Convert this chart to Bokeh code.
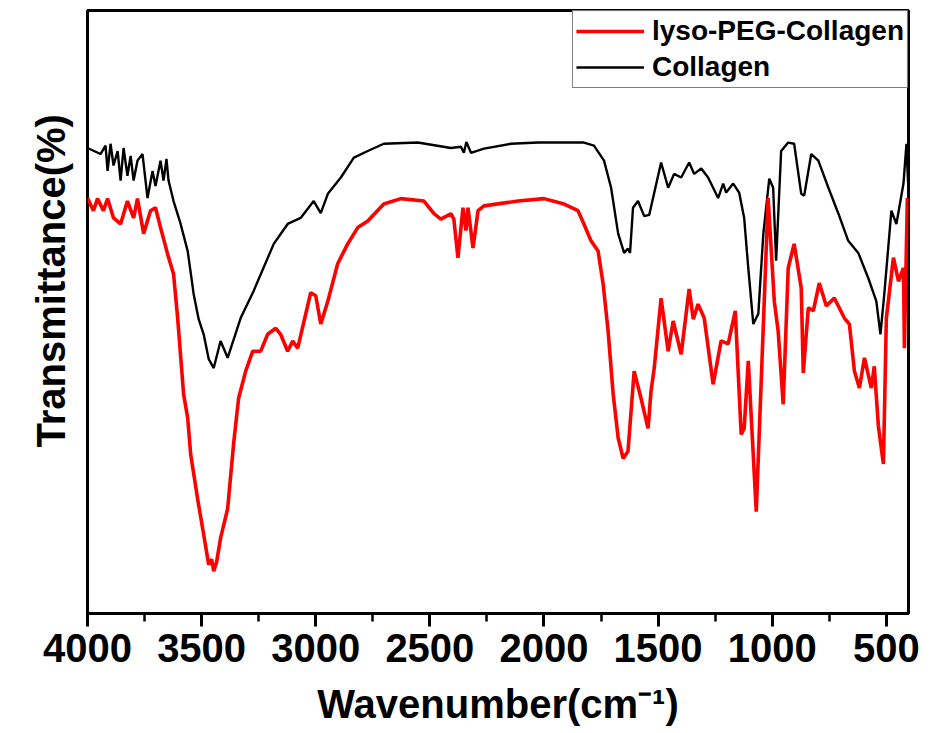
from bokeh.plotting import figure
from bokeh.models import Range1d, SingleIntervalTicker, Legend, LegendItem, Title
from bokeh.embed import file_html
from bokeh.resources import INLINE

# ---- data (wavenumber in cm^-1, transmittance in arbitrary % units) ----
wn_col = [4000, 3943, 3921, 3912, 3899, 3886, 3868, 3855, 3842, 3825, 3811, 3798, 3781, 3759,
          3737, 3715, 3702, 3680, 3667, 3654, 3645, 3623, 3592, 3561, 3535, 3513, 3491, 3469,
          3447, 3417, 3386, 3329, 3272, 3184, 3123, 3066, 3009, 2978, 2947, 2890, 2833, 2772,
          2702, 2553, 2408, 2364, 2351, 2340, 2320, 2263, 2145, 2026, 1825, 1781, 1737, 1706,
          1675, 1649, 1632, 1623, 1610, 1588, 1561, 1539, 1487, 1456, 1430, 1399, 1364, 1342,
          1311, 1281, 1237, 1215, 1202, 1171, 1145, 1123, 1105, 1083, 1061, 1039, 1013, 996,
          983, 961, 930, 904, 873, 860, 829, 798, 754, 710, 667, 623, 579, 544, 526, 509,
          478, 456, 425, 412, 405]
t_col = [77.2, 76.2, 77.6, 73.4, 77.9, 74.3, 76.7, 71.8, 77.2, 72.6, 75.9, 71.8, 75.1, 76.2,
         68.9, 73.4, 70.9, 75.1, 71.8, 75.4, 71.8, 68.4, 64.6, 60.1, 53.0, 48.8, 46.3, 42.2,
         40.7, 45.2, 42.4, 49.0, 53.5, 61.3, 64.6, 65.6, 68.4, 66.4, 69.6, 72.3, 75.6, 76.7,
         77.9, 78.1, 77.2, 77.4, 76.4, 78.2, 76.4, 77.1, 77.9, 78.1, 78.1, 77.6, 75.1, 70.6,
         63.0, 59.8, 60.5, 59.8, 67.3, 68.4, 65.9, 66.1, 74.8, 70.6, 72.9, 72.3, 74.8, 72.9,
         73.8, 72.3, 68.9, 71.3, 69.8, 71.3, 69.8, 65.6, 57.3, 48.0, 49.7, 63.0, 72.1, 70.6,
         58.5, 76.7, 78.1, 77.9, 69.6, 69.3, 76.2, 75.1, 70.6, 66.3, 61.8, 59.8, 55.6, 51.8,
         46.3, 53.0, 66.8, 64.6, 71.3, 77.9, 71.5]

wn_lyso = [4000, 3974, 3956, 3930, 3912, 3886, 3855, 3825, 3798, 3781, 3754, 3724, 3702, 3680,
           3649, 3623, 3605, 3579, 3561, 3548, 3518, 3491, 3469, 3456, 3447, 3434, 3417, 3386,
           3360, 3338, 3307, 3276, 3241, 3211, 3175, 3154, 3123, 3101, 3079, 3022, 3000, 2978,
           2947, 2904, 2860, 2816, 2772, 2702, 2627, 2526, 2482, 2452, 2408, 2395, 2377, 2355,
           2342, 2333, 2311, 2289, 2263, 2114, 2000, 1912, 1851, 1825, 1794, 1763, 1741, 1719,
           1697, 1675, 1653, 1632, 1605, 1575, 1544, 1531, 1517, 1487, 1456, 1434, 1399, 1364,
           1346, 1325, 1298, 1259, 1224, 1193, 1162, 1136, 1123, 1105, 1070, 1035, 1018, 991,
           974, 952, 930, 904, 873, 864, 842, 820, 794, 763, 728, 684, 662, 640, 618, 596,
           566, 553, 535, 513, 500, 469, 447, 425, 421, 408]
t_lyso = [68.9, 66.8, 68.8, 66.8, 68.8, 65.6, 64.6, 68.4, 65.6, 68.8, 63.0, 66.8, 67.3, 64.0,
          59.6, 56.3, 49.0, 36.4, 32.4, 26.4, 19.1, 13.1, 8.1, 9.0, 7.0, 8.6, 12.5, 17.4,
          28.1, 35.7, 40.2, 43.5, 43.5, 46.3, 47.3, 46.3, 43.5, 45.2, 44.0, 53.2, 52.7, 48.0,
          51.8, 58.0, 61.3, 64.0, 65.1, 67.9, 68.8, 68.4, 66.3, 65.4, 66.3, 65.4, 59.0, 67.3,
          63.5, 67.3, 60.6, 66.8, 67.6, 68.4, 68.8, 67.9, 66.8, 64.6, 61.8, 60.1, 54.7, 46.8,
          36.4, 29.1, 25.7, 26.9, 40.2, 35.7, 30.7, 36.9, 40.7, 52.3, 43.5, 48.5, 43.0, 53.8,
          48.8, 51.3, 49.0, 38.0, 45.2, 44.7, 50.2, 29.7, 30.7, 41.9, 16.9, 51.8, 68.9, 51.8,
          46.8, 34.7, 57.3, 61.3, 54.0, 39.9, 50.7, 50.2, 54.8, 51.0, 52.3, 49.0, 48.0, 40.2,
          37.4, 42.4, 37.4, 41.0, 31.1, 24.8, 49.0, 59.0, 55.1, 57.3, 44.0, 68.9]

series_labels = ["lyso-PEG-Collagen", "Collagen"]
x_title = "Wavenumber(cm\u207b\u00b9)"
y_title = "Transmittance(%)"

FONT = "Liberation Sans"

p = figure(width=951, height=733, output_backend="svg", toolbar_location=None,
           x_range=Range1d(4000, 403), y_range=Range1d(0, 100),
           y_axis_location=None, min_border_left=87, min_border_right=43,
           min_border_top=10, min_border_bottom=120)
p.background_fill_color = "white"
p.border_fill_color = "white"
p.grid.visible = False
p.outline_line_color = "black"
p.outline_line_width = 3

ax = p.xaxis[0]
ax.ticker = SingleIntervalTicker(interval=500, num_minor_ticks=2)
ax.axis_line_width = 3
ax.major_tick_line_width = 3
ax.minor_tick_line_width = 2.5
ax.major_tick_in = 0
ax.major_tick_out = 13
ax.minor_tick_in = 0
ax.minor_tick_out = 8
ax.major_label_standoff = 7
ax.major_label_text_font = FONT
ax.major_label_text_font_style = "bold"
ax.major_label_text_font_size = "40px"
ax.major_label_text_color = "black"
ax.axis_label = x_title
ax.axis_label_standoff = 17
ax.axis_label_text_font = FONT
ax.axis_label_text_font_style = "bold"
ax.axis_label_text_font_size = "40px"
ax.axis_label_text_color = "black"

r_col = p.line(wn_col, t_col, line_color="black", line_width=2.4)
r_lyso = p.line(wn_lyso, t_lyso, line_color="#ff0000", line_width=3.6)

legend = Legend(items=[LegendItem(label=series_labels[0], renderers=[r_lyso]),
                       LegendItem(label=series_labels[1], renderers=[r_col])],
                location="top_right")
legend.margin = 0
legend.padding = 3
legend.spacing = 2
legend.glyph_width = 68
legend.glyph_height = 34
legend.label_height = 34
legend.label_standoff = 8
legend.border_line_color = "black"
legend.border_line_width = 1.5
legend.label_text_font = FONT
legend.label_text_font_style = "bold"
legend.label_text_font_size = "28px"
legend.label_text_color = "black"
p.add_layout(legend)

ytitle = Title(text=y_title, align="left", offset=166, standoff=30,
               text_font=FONT, text_font_style="bold", text_font_size="40px",
               text_color="black")
p.add_layout(ytitle, "left")

open("out.html", "w").write(file_html(p, INLINE))
